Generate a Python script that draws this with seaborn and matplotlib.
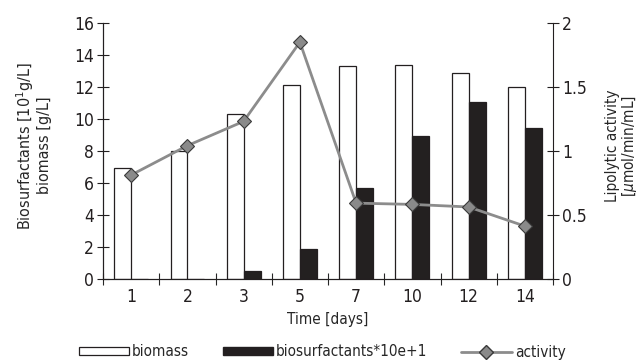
import matplotlib
matplotlib.use('Agg')
import matplotlib.pyplot as plt
import seaborn as sns
import pandas as pd
import numpy as np
from matplotlib.patches import Patch
from matplotlib.lines import Line2D

days = ['1', '2', '3', '5', '7', '10', '12', '14']
biomass = [6.9, 8.0, 10.3, 12.1, 13.3, 13.4, 12.9, 12.0]
biosurfactants = [0.0, 0.0, 0.45, 1.85, 5.65, 8.95, 11.05, 9.4]
activity = [0.81, 1.04, 1.23, 1.85, 0.59, 0.58, 0.56, 0.41]

sns.set_style('ticks')
plt.rcParams['font.family'] = ['Liberation Sans Narrow', 'DejaVu Sans']
plt.rcParams['font.stretch'] = 'condensed'
plt.rcParams['mathtext.fontset'] = 'dejavusans'

df = pd.DataFrame({
    'day': days * 2,
    'value': biomass + biosurfactants,
    'series': ['biomass'] * len(days) + ['biosurfactants*10e+1'] * len(days),
})

ink = '#231f20'
fig = plt.figure(figsize=(6.41, 3.63), dpi=100)
ax = fig.add_axes([103 / 641, 1 - 278.5 / 363, 450 / 641, 255.5 / 363])

sns.barplot(data=df, x='day', y='value', hue='series', order=days,
            palette={'biomass': 'white', 'biosurfactants*10e+1': ink},
            width=0.6, gap=0, edgecolor=ink, linewidth=0.9,
            legend=False, ax=ax)

ax2 = ax.twinx()
sns.pointplot(x=days, y=activity, order=days, ax=ax2, color='#8c8c8c',
              markers='D', linestyles='-', errorbar=None, linewidth=2,
              markersize=7, markeredgecolor='#3a3a3a', markeredgewidth=0.8)
for ln in ax2.lines:
    ln.set_markerfacecolor('#8a8a8a')
    ln.set_markeredgecolor('#3a3a3a')

ax.set_xlim(-0.5, len(days) - 0.5)
ax.set_ylim(0, 16)
ax2.set_ylim(0, 2)
ax.set_yticks(np.arange(0, 17, 2))
ax2.set_yticks([0, 0.5, 1, 1.5, 2])
ax2.set_yticklabels(['0', '0.5', '1', '1.5', '2'])

# ticks between categories, labels centred
ax.set_xticks(np.arange(len(days)))
ax.set_xticklabels(days)
ax.set_xticks(np.arange(-0.5, len(days)), minor=True)
ax.tick_params(axis='x', which='major', length=0, pad=7)
ax.tick_params(axis='x', which='minor', length=9, width=0.8, direction='inout')
ax.tick_params(axis='y', length=9, width=0.8, direction='inout', pad=2)
ax2.tick_params(axis='y', length=9, width=0.8, direction='inout', pad=2)
for a in (ax, ax2):
    a.tick_params(labelsize=12.5, colors=ink)
    for s in a.spines.values():
        s.set_linewidth(0.8)
        s.set_color(ink)
    a.spines['top'].set_visible(False)
ax.spines['right'].set_visible(False)

ax.set_xlabel('Time [days]', fontsize=11, labelpad=4)
ax.set_ylabel('Biosurfactants [10$^1$g/L]\nbiomass [g/L]', fontsize=11.5,
              labelpad=16, linespacing=1.05)
ax.yaxis.label.set_y(0.52)
ax2.set_ylabel('Lipolytic activity\n[$\\mu$mol/min/mL]', fontsize=11,
               labelpad=13, linespacing=1.0)
ax2.yaxis.label.set_y(0.52)
ax2.set_xlabel('')

handles = [
    Patch(facecolor='white', edgecolor=ink, linewidth=0.9, label='biomass'),
    Patch(facecolor=ink, edgecolor=ink, label='biosurfactants*10e+1'),
    Line2D([0], [0], color='#8c8c8c', lw=2, marker='D', markersize=7,
           markerfacecolor='#8a8a8a', markeredgecolor='#3a3a3a', label='activity'),
]
fig.legend(handles=handles, loc='center', bbox_to_anchor=(322 / 641, 1 - 352 / 363),
           ncol=3, frameon=False, fontsize=11, handlelength=3.3, handleheight=0.45,
           handletextpad=0.2, columnspacing=2.2, borderpad=0)

fig.savefig('out.png', dpi=100)
